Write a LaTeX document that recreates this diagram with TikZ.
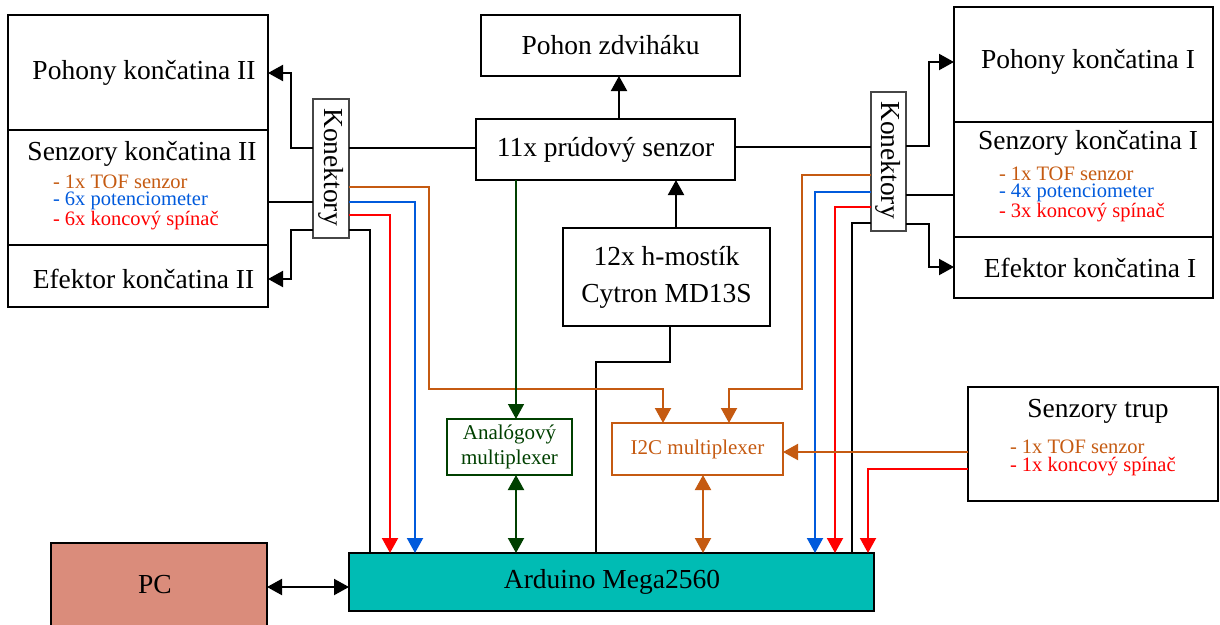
\documentclass[tikz,border=0pt]{standalone}
\usepackage{fontspec}
\setmainfont{Liberation Serif}
\usetikzlibrary{arrows.meta}
\definecolor{cor}{RGB}{197,90,17}
\definecolor{cbl}{RGB}{0,90,220}
\definecolor{crd}{RGB}{255,0,0}
\definecolor{cgr}{RGB}{0,64,0}
\definecolor{cteal}{RGB}{0,188,180}
\definecolor{cpc}{RGB}{218,140,123}
\definecolor{ckon}{RGB}{70,70,70}
\begin{document}
\begin{tikzpicture}[x=1pt,y=-1pt,
  every node/.style={inner sep=0pt, outer sep=0pt},
  blk/.style={draw, line width=2pt, rectangle, anchor=north west},
  konbox/.style={draw=ckon, line width=1.1pt, rectangle, anchor=north west, fill=white},
  big/.style={font=\fontsize{27.5}{30}\selectfont},
  sml/.style={font=\fontsize{20.5}{17.5}\selectfont, align=left, anchor=west},
  wire/.style={line width=2pt},
  tip/.style={-{Triangle[length=15pt,width=16pt]}},
  dtip/.style={{Triangle[length=15pt,width=16pt]}-{Triangle[length=15pt,width=16pt]}},
]
\useasboundingbox (0,0) rectangle (1220,624);

% left group
\node[blk, minimum width=260pt, minimum height=115pt] (pohII) at (8,15) {};
\node[blk, minimum width=260pt, minimum height=115pt] (senII) at (8,130) {};
\node[blk, minimum width=260pt, minimum height=62pt] (efII) at (8,245) {};
\node[big] (tpohII) at (144,73) {Pohony končatina II};
\node[big] (tsenII) at (142,154) {Senzory končatina II};
\node[sml] (lsenII) at (53,202) {\textcolor{cor}{- 1x TOF senzor}\\\textcolor{cbl}{- 6x potenciometer}\\\textcolor{crd}{- 6x koncový spínač}};
\node[big] (tefII) at (143.5,279) {Efektor končatina II};

% right group
\node[blk, minimum width=259pt, minimum height=115pt] (pohI) at (954,7) {};
\node[blk, minimum width=259pt, minimum height=115pt] (senI) at (954,122) {};
\node[blk, minimum width=259pt, minimum height=61pt] (efI) at (954,237) {};
\node[big] (tpohI) at (1088,62) {Pohony končatina I};
\node[big] (tsenI) at (1088,143) {Senzory končatina I};
\node[sml] (lsenI) at (999,194) {\textcolor{cor}{- 1x TOF senzor}\\\textcolor{cbl}{- 4x potenciometer}\\\textcolor{crd}{- 3x koncový spínač}};
\node[big] (tefI) at (1090,268) {Efektor končatina I};

% middle
\node[blk, minimum width=259pt, minimum height=61pt] (zdv) at (481,15) {};
\node[big] (tzdv) at (zdv.center) {Pohon zdviháku};
\node[blk, minimum width=259pt, minimum height=61pt] (prud) at (476,119) {};
\node[big] (tprud) at (prud.center) {11x prúdový senzor};
\node[blk, minimum width=207pt, minimum height=98pt] (hmost) at (563,228) {};
\node[big, align=center, font=\fontsize{27.5}{37}\selectfont] (thmost) at (hmost.center) {12x h-mostík\\Cytron MD13S};

\node[blk, draw=cgr, line width=1.2pt, minimum width=125pt, minimum height=56pt] (analog) at (447,419) {};
\node[font=\fontsize{21}{25}\selectfont, align=center, text=cgr] (tanalog) at (analog.center) {Analógový\\multiplexer};
\node[blk, draw=cor, minimum width=171pt, minimum height=52pt] (i2c) at (612,423) {};
\node[font=\fontsize{21}{25}\selectfont, text=cor] (ti2c) at (i2c.center) {I2C multiplexer};

\node[blk, minimum width=250pt, minimum height=114pt] (senT) at (968,387) {};
\node[big] (tsenT) at (1098,411) {Senzory trup};
\node[sml] (lsenT) at (1010,458) {\textcolor{cor}{- 1x TOF senzor}\\\textcolor{crd}{- 1x koncový spínač}};

\node[blk, fill=cpc, minimum width=216pt, minimum height=86pt] (pc) at (51,543) {};
\node[big] (tpc) at (155,585) {PC};
\node[blk, fill=cteal, minimum width=525pt, minimum height=58pt] (ard) at (349,553) {};
\node[big] (tard) at (612,582) {Arduino Mega2560};

\node[konbox, minimum width=36pt, minimum height=139pt] (konL) at (313,99) {};
\node[big, rotate=-90] (tkonL) at (331,167) {Konektory};
\node[konbox, minimum width=35pt, minimum height=139pt] (konR) at (871,92) {};
\node[big, rotate=-90] (tkonR) at (888.5,160) {Konektory};

% connectors
\draw[wire,tip] (prud.north -| 619,0) -- (zdv.south -| 619,0);
\draw[wire,tip] (hmost.north -| 676,0) -- (prud.south -| 676,0);
\draw[wire] (hmost.south -| 670,0) |- (596,362) -- (ard.north -| 596,0);

\draw[wire] (konL.east |- 0,148) -- (prud.west |- 0,148);
\draw[wire] (prud.east |- 0,147) -- (konR.west |- 0,147);

\draw[wire,tip] (konL.west |- 0,148) -| (291,73) -- (pohII.east |- 0,73);
\draw[wire] (senII.east |- 0,202) -- (konL.west |- 0,202);
\draw[wire,tip] (konL.west |- 0,230) -| (291,279) -- (efII.east |- 0,279);

\draw[wire,tip] (konR.east |- 0,146) -| (929,62) -- (pohI.west |- 0,62);
\draw[wire] (konR.east |- 0,195) -- (senI.west |- 0,195);
\draw[wire,tip] (konR.east |- 0,224) -| (929,267) -- (efI.west |- 0,267);

\draw[wire,cor,tip] (konL.east |- 0,187) -| (429,389) -| (i2c.north -| 663,0);
\draw[wire,cbl,tip] (konL.east |- 0,202) -| (ard.north -| 415,0);
\draw[wire,crd,tip] (konL.east |- 0,215) -| (ard.north -| 390,0);
\draw[wire] (konL.east |- 0,230) -| (ard.north -| 370,0);

\draw[wire,cor,tip] (konR.west |- 0,175) -| (802,389) -| (i2c.north -| 729,0);
\draw[wire,cbl,tip] (konR.west |- 0,192) -| (ard.north -| 815,0);
\draw[wire,crd,tip] (konR.west |- 0,207) -| (ard.north -| 835,0);
\draw[wire] (konR.west |- 0,223) -| (ard.north -| 852,0);

\draw[line width=1.4pt,cgr,tip] (prud.south -| 516,0) -- (analog.north -| 516,0);
\draw[wire,cgr,dtip] (analog.south -| 516,0) -- (ard.north -| 516,0);
\draw[wire,cor,dtip] (i2c.south -| 703,0) -- (ard.north -| 703,0);

\draw[wire,cor,tip] (senT.west |- 0,452) -- (i2c.east |- 0,452);
\draw[wire,crd,tip] (senT.west |- 0,469) -| (ard.north -| 868,0);

\draw[wire,dtip] (pc.east |- 0,587) -- (ard.west |- 0,587);
\end{tikzpicture}
\end{document}
